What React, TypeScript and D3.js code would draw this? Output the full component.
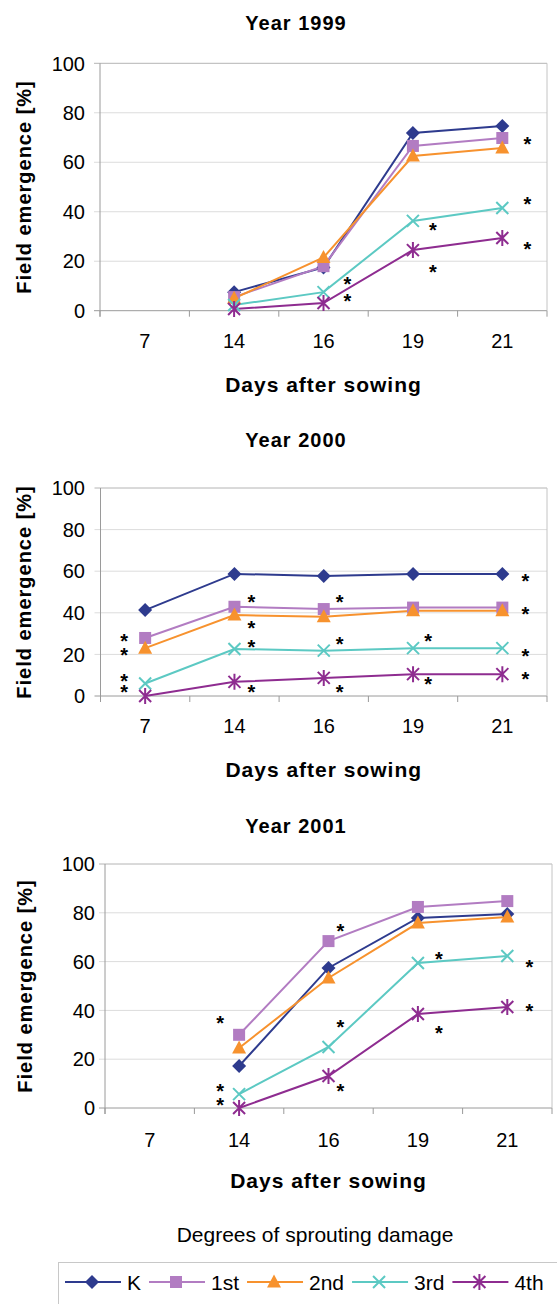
import React from "react";
import * as d3 from "d3";

// categories and series
const days = ["7", "14", "16", "19", "21"];
const seriesNames = ["K", "1st", "2nd", "3rd", "4th"];
const seriesColors = ["#2E3B8E", "#B27CC2", "#F7922E", "#5CC9C3", "#8E2C90"];
const yTicks = [0, 20, 40, 60, 80, 100];

// 1999 (no count on day 7)
const k1999 = [null, 7.5, 17.5, 71.8, 74.7];
const first1999 = [null, 5.5, 18, 66.6, 69.8];
const second1999 = [null, 5, 21.5, 62.5, 65.8];
const third1999 = [null, 2.3, 7.5, 36.3, 41.5];
const fourth1999 = [null, 0.7, 3.1, 24.5, 29.4];
// significance marks: [day index, height in %]
const stars1999 = [[2, 12.4], [2, 5.5], [3, 34.2], [3, 17.3], [4, 69], [4, 44.7], [4, 26.5]];

// 2000
const k2000 = [41.3, 58.7, 57.7, 58.7, 58.7];
const first2000 = [27.9, 42.9, 41.8, 42.5, 42.5];
const second2000 = [23, 38.9, 38.1, 41, 41];
const third2000 = [6, 22.6, 21.8, 23, 23];
const fourth2000 = [0, 6.8, 8.7, 10.5, 10.5];
const stars2000 = [
  [0, 28.4], [0, 21.6], [0, 9.1], [0, 3.8],
  [1, 47.1], [1, 34.6], [1, 25.5], [1, 3.8],
  [2, 47.1], [2, 26.9], [2, 3.8],
  [3, 28.4], [3, 7.7],
  [4, 57.2], [4, 41.3], [4, 21.2], [4, 10.1],
];

// 2001
const k2001 = [null, 17.2, 57.4, 77.9, 79.5];
const first2001 = [null, 30, 68.4, 82.4, 84.8];
const second2001 = [null, 24.6, 53.3, 75.8, 78.3];
const third2001 = [null, 5.7, 25, 59.4, 62.3];
const fourth2001 = [null, 0, 13.1, 38.5, 41.4];
const stars2001 = [
  [1, 36.5], [1, 8.6], [1, 2.9],
  [2, 74.2], [2, 34.8], [2, 8.6],
  [3, 62.7], [3, 32.4],
  [4, 59.4], [4, 41.4],
];

const FONT = "'Liberation Sans', Arial, sans-serif";

function Marker({ kind, x, y, color }) {
  if (kind === 0)
    return <path d={`M${x},${y - 7}L${x + 7},${y}L${x},${y + 7}L${x - 7},${y}Z`} fill={color} />;
  if (kind === 1) return <rect x={x - 6} y={y - 6} width={12} height={12} fill={color} />;
  if (kind === 2)
    return <path d={`M${x},${y - 7.5}L${x + 7},${y + 5.5}L${x - 7},${y + 5.5}Z`} fill={color} />;
  if (kind === 3)
    return (
      <path d={`M${x - 6},${y - 6}L${x + 6},${y + 6}M${x - 6},${y + 6}L${x + 6},${y - 6}`} stroke={color} strokeWidth={2} />
    );
  return (
    <path
      d={`M${x - 6},${y - 6}L${x + 6},${y + 6}M${x - 6},${y + 6}L${x + 6},${y - 6}M${x},${y - 8}L${x},${y + 8}`}
      stroke={color}
      strokeWidth={2}
    />
  );
}

function Panel({ title, series, stars, lay }) {
  const x = d3.scaleBand().domain(days).range([lay.left, lay.right]);
  const y = d3.scaleLinear().domain([0, 100]).range([lay.bottom, lay.top]);
  const cx = (i) => x(days[i]) + x.bandwidth() / 2;
  const line = d3
    .line()
    .defined((d) => d != null)
    .x((d, i) => cx(i))
    .y((d) => y(d));
  const midY = (lay.top + lay.bottom) / 2;
  const edges = days.map((d) => x(d)).concat([lay.right]);

  return (
    <g fontFamily={FONT}>
      <text x={296} y={lay.titleY} textAnchor="middle" fontWeight="bold" fontSize={20} letterSpacing={1}>
        {title}
      </text>
      {yTicks.map((t) => (
        <g key={t}>
          <line
            x1={lay.left - 6}
            x2={lay.right}
            y1={y(t)}
            y2={y(t)}
            stroke={t === 0 ? "#9A9A9A" : t === 100 ? "#B4B4B4" : "#DCDCDC"}
          />
          <text x={lay.labelRight} y={y(t)} dy="0.36em" textAnchor="end" fontSize={20}>
            {t}
          </text>
        </g>
      ))}
      <line x1={lay.left} x2={lay.left} y1={lay.top} y2={lay.bottom + 6} stroke="#9A9A9A" />
      <line x1={lay.right} x2={lay.right} y1={lay.top} y2={lay.bottom} stroke="#C4C4C4" />
      {edges.map((e, i) => (
        <line key={i} x1={e} x2={e} y1={lay.bottom} y2={lay.bottom + 6} stroke="#9A9A9A" />
      ))}
      {days.map((d, i) => (
        <text key={d} x={cx(i)} y={lay.xLabelY} textAnchor="middle" fontSize={20}>
          {d}
        </text>
      ))}
      <text
        x={(lay.left + lay.right) / 2}
        y={lay.xTitleY}
        textAnchor="middle"
        fontWeight="bold"
        fontSize={21}
        letterSpacing={1}
      >
        Days after sowing
      </text>
      <text
        transform={`translate(${lay.yTitleX},${midY}) rotate(-90)`}
        textAnchor="middle"
        fontWeight="bold"
        fontSize={20}
        letterSpacing={1}
      >
        Field emergence [%]
      </text>
      {series.map((s, si) => (
        <path key={si} d={line(s)} fill="none" stroke={seriesColors[si]} strokeWidth={2} />
      ))}
      {series.map((s, si) =>
        s.map((v, i) =>
          v == null ? null : <Marker key={si + "-" + i} kind={si} x={cx(i)} y={y(v)} color={seriesColors[si]} />
        )
      )}
      {stars.map(([i, v], k) => (
        <text key={k} x={cx(i) + lay.starDx[i]} y={y(v)} dy="0.56em" textAnchor="middle" fontWeight="bold" fontSize={20}>
          *
        </text>
      ))}
    </g>
  );
}

function Legend() {
  const canvas = document.createElement("canvas");
  const ctx = canvas.getContext("2d");
  ctx.font = `21px ${FONT}`;
  let cur = 65;
  const items = seriesNames.map((n, i) => {
    const start = cur;
    cur += 56 + 6 + ctx.measureText(n).width + 8;
    return { n, i, start };
  });
  const rowY = 1282;
  return (
    <g fontFamily={FONT}>
      <text x={315} y={1242} textAnchor="middle" fontSize={21}>
        Degrees of sprouting damage
      </text>
      <rect x={58.5} y={1262.5} width={540} height={80} fill="none" stroke="#C8C8C8" />
      {items.map(({ n, i, start }) => (
        <g key={n}>
          <line x1={start} x2={start + 56} y1={rowY} y2={rowY} stroke={seriesColors[i]} strokeWidth={2} />
          <Marker kind={i} x={start + 27} y={rowY} color={seriesColors[i]} />
          <text x={start + 62} y={rowY} dy="0.36em" fontSize={21}>
            {n}
          </text>
        </g>
      ))}
    </g>
  );
}

export default function App() {
  const p1 = {
    top: 63.3, bottom: 310.7, left: 100, right: 547, titleY: 30, xLabelY: 348, xTitleY: 392,
    yTitleX: 31, labelRight: 85, starDx: [0, 0, 24, 20, 25],
  };
  const p2 = {
    top: 488, bottom: 696, left: 100.5, right: 547, titleY: 447, xLabelY: 733, xTitleY: 777,
    yTitleX: 31, labelRight: 85, starDx: [-21, 17, 16, 15, 23],
  };
  const p3 = {
    top: 864, bottom: 1108, left: 105, right: 552, titleY: 833, xLabelY: 1147, xTitleY: 1188,
    yTitleX: 32, labelRight: 95, starDx: [0, -19, 12, 21, 22],
  };
  return (
    <svg
      width={557}
      height={1304}
      style={{ position: "absolute", left: 0, top: 0, background: "#fff" }}
    >
      <rect width={557} height={1304} fill="#fff" />
      <Panel title="Year 1999" series={[k1999, first1999, second1999, third1999, fourth1999]} stars={stars1999} lay={p1} />
      <Panel title="Year 2000" series={[k2000, first2000, second2000, third2000, fourth2000]} stars={stars2000} lay={p2} />
      <Panel title="Year 2001" series={[k2001, first2001, second2001, third2001, fourth2001]} stars={stars2001} lay={p3} />
      <Legend />
    </svg>
  );
}
